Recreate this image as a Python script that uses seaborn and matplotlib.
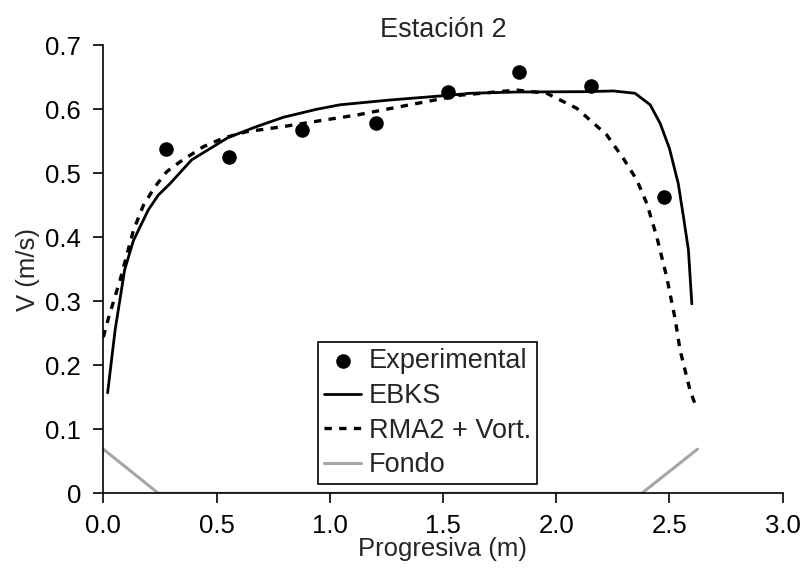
import matplotlib
matplotlib.use("Agg")
import matplotlib.pyplot as plt
import seaborn as sns
import pandas as pd

# Experimental points
exp_x = [0.277, 0.557, 0.878, 1.205, 1.52, 1.837, 2.154, 2.474]
exp_y = [0.538, 0.526, 0.567, 0.578, 0.627, 0.659, 0.636, 0.4625]

# EBKS model
ebks_x = [0.019, 0.052, 0.094, 0.133, 0.199, 0.243, 0.295, 0.39, 0.552, 0.677, 0.795,
          0.942, 1.045, 1.266, 1.531, 1.62, 1.826, 2.12, 2.253, 2.348, 2.415, 2.459,
          2.50, 2.539, 2.562, 2.584, 2.599]
ebks_y = [0.157, 0.255, 0.349, 0.395, 0.443, 0.466, 0.484, 0.521, 0.556, 0.573, 0.5875,
          0.600, 0.607, 0.6145, 0.622, 0.625, 0.627, 0.6275, 0.6286, 0.625, 0.607, 0.578,
          0.539, 0.484, 0.432, 0.380, 0.296]

# RMA2 + Vort. model
rma_x = [0.0, 0.022, 0.074, 0.133, 0.177, 0.228, 0.28, 0.339, 0.442, 0.53, 0.633, 0.795,
         0.972, 1.119, 1.25, 1.575, 1.826, 1.958, 2.091, 2.223, 2.297, 2.356, 2.40, 2.444,
         2.488, 2.525, 2.547, 2.591, 2.62]
rma_y = [0.244, 0.273, 0.333, 0.411, 0.450, 0.479, 0.5025, 0.518, 0.5416, 0.555, 0.565,
         0.573, 0.583, 0.591, 0.600, 0.622, 0.630, 0.625, 0.6015, 0.560, 0.523, 0.4895,
         0.453, 0.401, 0.338, 0.273, 0.224, 0.161, 0.133]

# Bottom profile
fondo_x = [0.0, 0.243, 2.378, 2.624]
fondo_y = [0.069, 0.0, 0.0, 0.069]

sns.set_style("white")
plt.rcParams['font.family'] = ['Liberation Sans', 'DejaVu Sans']

fig = plt.figure(figsize=(8.06, 5.79), dpi=100)
ax = fig.add_axes([0.1282, 0.148, 0.971 - 0.1282, 0.9218 - 0.148])

df_exp = pd.DataFrame({"x": exp_x, "y": exp_y})
df_ebks = pd.DataFrame({"x": ebks_x, "y": ebks_y})
df_rma = pd.DataFrame({"x": rma_x, "y": rma_y})
df_fondo = pd.DataFrame({"x": fondo_x, "y": fondo_y})

sns.scatterplot(data=df_exp, x="x", y="y", ax=ax, color="black", s=110,
                edgecolor="black", linewidth=0, label="Experimental", zorder=5)
sns.lineplot(data=df_ebks, x="x", y="y", ax=ax, sort=False, color="black",
             linewidth=2.0, label="EBKS", estimator=None)
sns.lineplot(data=df_rma, x="x", y="y", ax=ax, sort=False, color="black",
             linewidth=2.4, dashes=False, label="RMA2 + Vort.", estimator=None)
ax.lines[-1].set_dashes((2.2, 2.2))
sns.lineplot(data=df_fondo, x="x", y="y", ax=ax, sort=False, color="#a6a6a6",
             linewidth=2.2, label="Fondo", estimator=None)

ax.set_xlim(0, 3.0)
ax.set_ylim(0, 0.7)
ax.set_xticks([0, 0.5, 1.0, 1.5, 2.0, 2.5, 3.0])
ax.set_xticklabels(["0.0", "0.5", "1.0", "1.5", "2.0", "2.5", "3.0"])
ax.set_yticks([0, 0.1, 0.2, 0.3, 0.4, 0.5, 0.6, 0.7])
ax.set_yticklabels(["0", "0.1", "0.2", "0.3", "0.4", "0.5", "0.6", "0.7"])

for s in ["top", "right"]:
    ax.spines[s].set_visible(False)
for s in ["left", "bottom"]:
    ax.spines[s].set_color("black")
    ax.spines[s].set_linewidth(1.2)

ax.tick_params(axis="both", direction="out", length=7, width=1.2, colors="black",
               labelsize=18.5)
ax.tick_params(axis="x", pad=8)
ax.tick_params(axis="y", pad=9, left=True)
ax.tick_params(axis="x", bottom=True)

ax.set_xlabel("Progresiva (m)", fontsize=18.5, labelpad=-1)
ax.set_ylabel("V (m/s)", fontsize=18.5, labelpad=4)
ax.set_title("Estación 2", fontsize=19.5, pad=6)

leg = ax.legend(loc="lower left", bbox_to_anchor=(0.3165, 0.02), borderaxespad=0,
                fontsize=19.5, frameon=True, fancybox=False, framealpha=1,
                edgecolor="black", handlelength=1.35, handletextpad=0.3,
                labelspacing=0.32, borderpad=0.22)
leg.get_frame().set_linewidth(1.2)

fig.savefig("out.png", dpi=100)
